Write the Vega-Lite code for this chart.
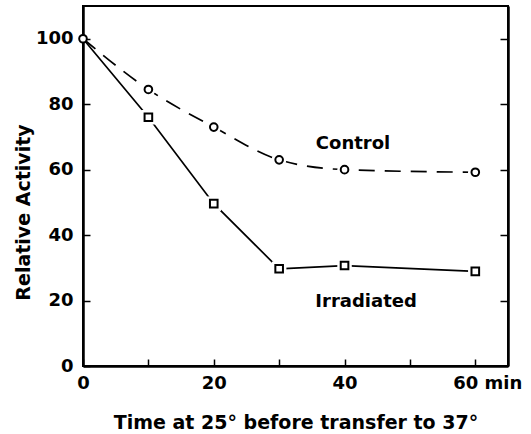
{
  "$schema": "https://vega.github.io/schema/vega-lite/v6.json",
  "width": 425,
  "height": 360,
  "autosize": "none",
  "padding": {"left": 83, "top": 6, "right": 23, "bottom": 68},
  "background": "white",
  "config": {
    "view": {"stroke": "black", "strokeWidth": 2},
    "font": "DejaVu Sans",
    "axis": {
      "domainColor": "black", "domainWidth": 2.5, "tickColor": "black", "tickWidth": 1.5,
      "labelColor": "black", "labelFont": "DejaVu Sans", "labelFontWeight": "bold", "labelFontSize": 18,
      "titleColor": "black", "titleFont": "DejaVu Sans", "titleFontWeight": "bold", "titleFontSize": 18,
      "grid": false
    }
  },
  "datasets": {
    "pts": [
      {"series": "Control", "time": 0, "activity": 100},
      {"series": "Control", "time": 10, "activity": 84.5},
      {"series": "Control", "time": 20, "activity": 73},
      {"series": "Control", "time": 30, "activity": 63},
      {"series": "Control", "time": 40, "activity": 60},
      {"series": "Control", "time": 60, "activity": 59.2},
      {"series": "Irradiated", "time": 0, "activity": 100},
      {"series": "Irradiated", "time": 10, "activity": 76},
      {"series": "Irradiated", "time": 20, "activity": 49.6},
      {"series": "Irradiated", "time": 30, "activity": 29.7},
      {"series": "Irradiated", "time": 40, "activity": 30.7},
      {"series": "Irradiated", "time": 60, "activity": 28.9}
    ],
    "labels": [
      {"label": "Control", "time": 41.3, "activity": 67.7},
      {"label": "Irradiated", "time": 43.3, "activity": 19.6}
    ]
  },
  "resolve": {"axis": {"y": "independent"}},
  "layer": [
    {
      "data": {"name": "pts"},
      "transform": [{"filter": "datum.series === 'Control'"}],
      "mark": {"type": "line", "color": "black", "strokeWidth": 1.7, "strokeDash": [16, 10], "interpolate": "monotone"},
      "encoding": {
        "x": {"field": "time", "type": "quantitative",
          "scale": {"domain": [0, 65], "nice": false},
          "axis": {"values": [0, 10, 20, 30, 40, 50, 60], "tickSize": -7, "labelPadding": 15,
            "labelExpr": "datum.value === 60 ? '60 min' : (datum.value % 20 === 0 ? datum.label : '')",
            "labelOffset": {"condition": {"test": "datum.value === 60", "value": 12}, "value": 0},
            "labelFlush": false, "labelOverlap": false,
            "title": "Time at 25° before transfer to 37°", "titleFontSize": 19, "titleY": 47, "titleBaseline": "top"}},
        "y": {"field": "activity", "type": "quantitative",
          "scale": {"domain": [0, 110], "nice": false, "zero": true},
          "axis": {"orient": "left", "values": [0, 20, 40, 60, 80, 100], "tickSize": -7, "labelPadding": 17,
            "title": "Relative Activity", "titleFontSize": 19, "titleX": -50, "titleY": 206}}
      }
    },
    {
      "data": {"name": "pts"},
      "transform": [{"filter": "datum.series === 'Irradiated'"}],
      "mark": {"type": "line", "color": "black", "strokeWidth": 1.7},
      "encoding": {
        "x": {"field": "time", "type": "quantitative"},
        "y": {"field": "activity", "type": "quantitative", "axis": null}
      }
    },
    {
      "data": {"name": "pts"},
      "transform": [{"filter": "datum.time > 0"}],
      "mark": {"type": "point", "filled": true, "color": "white", "opacity": 1, "size": 210},
      "encoding": {
        "x": {"field": "time", "type": "quantitative"},
        "y": {"field": "activity", "type": "quantitative", "axis": null},
        "shape": {"field": "series", "type": "nominal", "scale": {"domain": ["Control", "Irradiated"], "range": ["circle", "square"]}, "legend": null}
      }
    },
    {
      "data": {"name": "pts"},
      "transform": [{"filter": "!(datum.series === 'Irradiated' && datum.time === 0)"}],
      "mark": {"type": "point", "filled": false, "fill": "white", "stroke": "black", "strokeWidth": 2, "opacity": 1, "size": 58},
      "encoding": {
        "x": {"field": "time", "type": "quantitative"},
        "y": {"field": "activity", "type": "quantitative", "axis": null},
        "shape": {"field": "series", "type": "nominal", "scale": {"domain": ["Control", "Irradiated"], "range": ["circle", "square"]}, "legend": null}
      }
    },
    {
      "data": {"name": "labels"},
      "mark": {"type": "text", "font": "DejaVu Sans", "fontWeight": "bold", "fontSize": 18, "color": "black"},
      "encoding": {
        "x": {"field": "time", "type": "quantitative"},
        "y": {"field": "activity", "type": "quantitative",
          "axis": {"orient": "right", "values": [20, 40, 60, 80, 100], "tickSize": -8, "labels": false, "title": null}},
        "text": {"field": "label", "type": "nominal"}
      }
    }
  ]
}
